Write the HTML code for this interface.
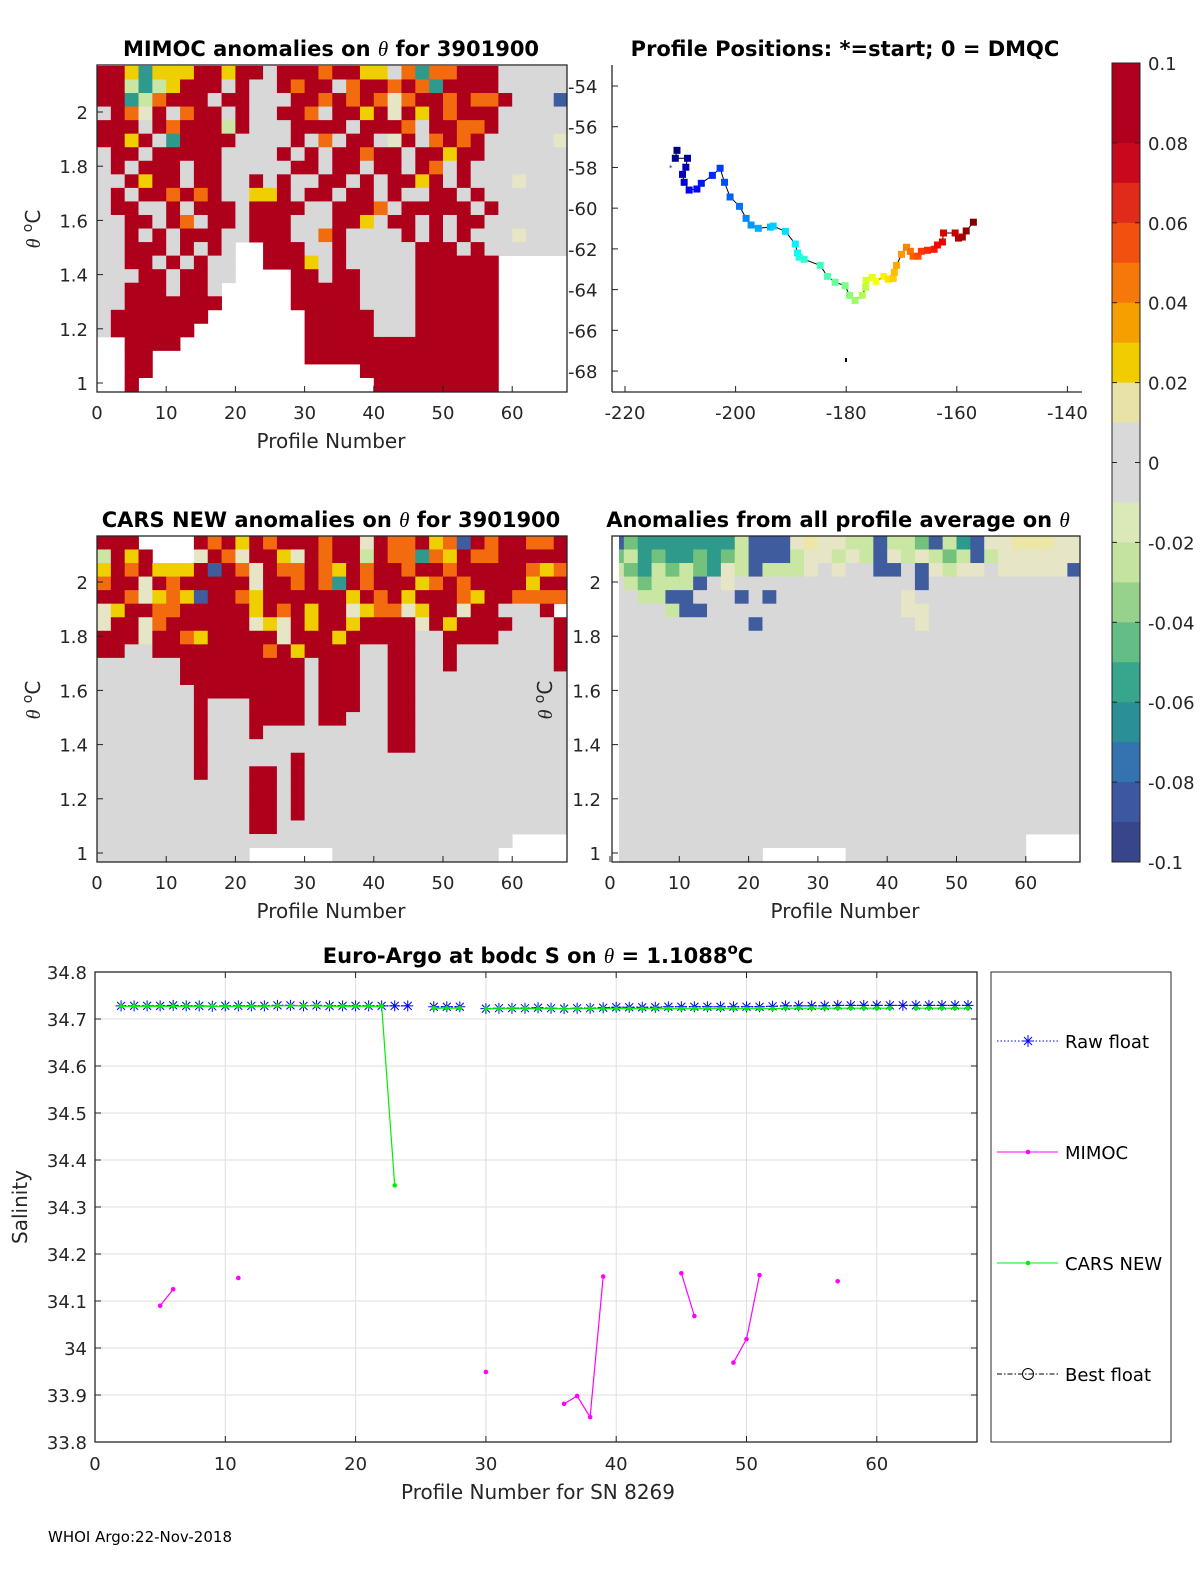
<!DOCTYPE html>
<html><head><meta charset="utf-8"><style>
html,body{margin:0;padding:0;background:#fff;}
svg{display:block;font-family:"DejaVu Sans","Liberation Sans",sans-serif;}
</style></head><body>
<svg id="fig" width="1200" height="1575" viewBox="0 0 1200 1575" xmlns="http://www.w3.org/2000/svg">
<rect width="1200" height="1575" fill="#fff"/>
<g id="p1"></g>
<g id="p2"></g>
<g id="p3"></g>
<g id="p4"></g>
<g id="cb"></g>
<g id="p5"></g>
<text x="48" y="1542" font-size="15">WHOI Argo:22-Nov-2018</text>
</svg>
<script>
// ---------- data ----------
const mimocRows = [
"RRYTYYYRRYRRGRRRORRYYGOTOORRRGGGGG",
"RRLTLYRRRGRGGRORRGORROROTRRRRGGGGG",
"RRTLORRRGRRGGGRROROROCORROROORGGGB",
"GROCRGORRGRGGRROGRRYRCRYRORRRGGGGG",
"RRRGRORRRLRGGGRRRRGRRROGRROORGGGGG",
"RRYRGTRRRRGGGGRGOGRRGCRGORORGGGGGC",
"GRRGRRRRRGGGGRGRGRRORRGRRYRRGGGGGG",
"GRGRRRGRRGGGGGRRGRRGRRGROGRGGGGGGG",
"GGRYRRGRRGGRGRGGRRGRGRRYRGRGGGCGGG",
"GRGRRORORGGYYRGRRGRRGRGGRRGRGGGGGG",
"GRRGGRGRRRGRRRRGGRRROGRRRRRGRGGGGG",
"GGRRGROGRRGRRRGGGRRYGRRGRGRRGGGGGG",
"GGRGRGRRRGGRRRGGORGGGGRGRGRGGGCGGG",
"GGRRRGRGRGWWRRRGGRGGGGGRRRGRGGGGGG",
"GGRRGRGRGGWWRRRYGRGGGGGRRRRRRWWWWW",
"GGGRRGRRGGWWWWRRGRRGGGGRRRRRRWWWWW",
"GGRRRGRRGWWWWWRRRRRGGGGRRRRRRWWWWW",
"GGRRRRRRRWWWWWRRRRRGGGGRRRRRRWWWWW",
"GRRRRRRRWWWWWWWRRRRRGGGRRRRRRWWWWW",
"GRRRRRRWWWWWWWWRRRRRGGGRRRRRRWWWWW",
"WWRRRRWWWWWWWWWRRRRRRRRRRRRRRWWWWW",
"WWRRWWWWWWWWWWWRRRRRRRRRRRRRRWWWWW",
"WWRRWWWWWWWWWWWWWWWRRRRRRRRRRWWWWW",
"WWRWWWWWWWWWWWWWWWWWRRRRRRRRRWWWWW"];
const carsRows = [
"RRRWWWWRORYRORRRORRCROORYOBRORROOR",
"LRYRWWWCROCRRYCRORRLROOTOYROORRRRR",
"YRORYYYRBROCROOROYRORRORRORRRRROYO",
"ORRCRORRRRRCRROROTRORRRYORORRRRYRR",
"RROCYOYBRROYRRRRRRYRORYRRROYRROOOO",
"CYRROORRRRRYRORYRRCYOOCYRRCRRGGGR",
"CRRCORRRRRRCYCRYRRYRRRRCRYRRRRGGGR",
"RRRCRROYRRRRRCRRRYRRRRRGGRRRRGGGGR",
"RRGGRRRRRRRRORYRRRRGGRRGGRGGGGGGGR",
"GGGGGGRRRRRRRRRGRRRGGRRGGRGGGGGGGR",
"GGGGGGRRRRRRRRRGRRRGGRRGGGGGGGGGGG",
"GGGGGGGRRRRRRRRGRRRGGRRGGGGGGGGGGG",
"GGGGGGGRGGGRRRRGRRRGGRRGGGGGGGGGGG",
"GGGGGGGRGGGRRRRGRRGGGRRGGGGGGGGGGG",
"GGGGGGGRGGGRGGGGGGGGGRRGGGGGGGGGGG",
"GGGGGGGRGGGGGGGGGGGGGRRGGGGGGGGGGG",
"GGGGGGGRGGGGGGRGGGGGGGGGGGGGGGGGGG",
"GGGGGGGRGGGRRGRGGGGGGGGGGGGGGGGGGG",
"GGGGGGGGGGGRRGRGGGGGGGGGGGGGGGGGGG",
"GGGGGGGGGGGRRGRGGGGGGGGGGGGGGGGGGG",
"GGGGGGGGGGGRRGRGGGGGGGGGGGGGGGGGGG",
"GGGGGGGGGGGRRGGGGGGGGGGGGGGGGGGGGG",
"GGGGGGGGGGGGGGGGGGGGGGGGGGGGGGWWWW",
"GGGGGGGGGGGWWWWWWGGGGGGGGGGGGWWWWW"];
const avgRows = [
"BKTTTTTTTLBBBCPCCLLBLLKBLTBCCPPPCC",
"KLTKTTKTKLBBBLCCLCLBCLCLKLBLCCCCCC",
"LKTLKLKTCLBLLLCGCGGBBGBCLCCGCCCCCB",
"GLKLLLBGCGGGGGGGGGGGGGBGGGGGGGGGGG",
"GGLLBBGGGBGBGGGGGGGGGCGGGGGGGGGGGG",
"GGGGLBBGGGGGGGGGGGGGGCCGGGGGGGGGGG",
"GGGGGGGGGGBGGGGGGGGGGGCGGGGGGGGGGG"];
const avgBlankBottom = ["GGGGGGGGGGGGGGGGGGGGGGGGGGGGGGWWWW","GGGGGGGGGGGWWWWWWGGGGGGGGGGGGGWWWW"];

const trackLon = [-210.6,-210.9,-208.7,-209.0,-209.6,-209.3,-208.4,-207.0,-206.2,-204.2,-202.8,-202.0,-201.0,-199.3,-198.1,-197.2,-195.9,-193.7,-193.2,-191.0,-189.2,-188.8,-188.5,-187.6,-184.7,-183.4,-182.0,-180.2,-179.4,-178.4,-177.1,-176.5,-176.4,-175.3,-174.6,-173.2,-172.4,-171.5,-171.3,-170.9,-170.0,-169.1,-168.4,-167.9,-167.0,-166.4,-165.3,-164.1,-163.5,-162.6,-162.4,-160.3,-159.7,-159.0,-158.3,-157.0];
const trackLat = [-57.16,-57.55,-57.55,-57.99,-58.34,-58.73,-59.11,-59.06,-58.78,-58.39,-58.04,-58.73,-59.45,-59.91,-60.50,-60.83,-60.99,-60.93,-60.88,-61.14,-61.76,-62.20,-62.41,-62.51,-62.81,-63.35,-63.64,-63.81,-64.28,-64.53,-64.28,-63.89,-63.54,-63.40,-63.59,-63.35,-63.49,-63.45,-63.15,-62.81,-62.27,-61.92,-62.12,-62.36,-62.36,-62.12,-62.07,-62.02,-61.81,-61.66,-61.22,-61.22,-61.47,-61.42,-61.12,-60.69];

const profiles = [];
for (let p = 1; p <= 67; p++) profiles.push(p);
const rawSal = [null,34.728,34.728,34.728,34.728,34.729,34.728,34.728,34.727,34.728,34.728,34.728,34.728,34.729,34.729,34.728,34.729,34.728,34.728,34.728,34.728,34.728,34.728,34.728,null,34.726,34.726,34.726,null,34.722,34.723,34.723,34.723,34.724,34.723,34.722,34.723,34.723,34.724,34.725,34.725,34.725,34.725,34.726,34.726,34.726,34.726,34.726,34.726,34.726,34.726,34.727,34.728,34.728,34.728,34.728,34.729,34.729,34.729,34.729,34.729,34.729,34.729,34.729,34.729,34.729,34.729];
const carsSal = [null,34.727,34.727,34.727,34.727,34.727,34.727,34.727,34.727,34.727,34.727,34.727,34.727,34.728,34.728,34.728,34.728,34.727,34.727,34.727,34.727,34.727,34.346,null,null,34.723,34.723,34.723,null,34.722,34.722,34.722,34.722,34.722,34.722,34.722,34.722,34.722,34.722,34.722,34.722,34.722,34.722,34.722,34.722,34.722,34.722,34.722,34.722,34.722,34.722,34.722,34.723,34.723,34.723,34.723,34.723,34.723,34.723,34.723,34.723,null,34.723,34.723,34.723,34.723,34.723];
const mimocSal = [null,null,null,null,34.090,34.125,null,null,null,null,34.149,null,null,null,null,null,null,null,null,null,null,null,null,null,null,null,null,null,null,33.949,null,null,null,null,null,33.881,33.898,33.853,34.152,null,null,null,null,null,34.159,34.068,null,null,33.969,34.019,34.155,null,null,null,null,null,34.142,null,null,null,null,null,null,null,null,null,null];

const cbColors = ["#b00020","#b00020","#c8081c","#e02a1a","#f05010","#f7780a","#f5a000","#f0cc00","#e8e2a8","#d9d9d9","#d9d9d9","#dbe8b8","#c4e3a0","#96d28c","#62be84","#38a68c","#2c8f98","#3473b0","#3d58a0","#37468a"];
const cbTicks = ["0.1","0.08","0.06","0.04","0.02","0","-0.02","-0.04","-0.06","-0.08","-0.1"];

const cellColor = {R:"#ae001b",O:"#f26b0f",Y:"#f0cf00",C:"#e6e5c6",G:"#d8d8d8",T:"#2e9a8c",B:"#3f5c9f",L:"#c9e6a2",K:"#72c27e",P:"#ece7a6",W:"#ffffff"};

// ---------- helpers ----------
const NS = "http://www.w3.org/2000/svg";
function mk(parent, tag, attrs, txt){
  const e = document.createElementNS(NS, tag);
  for (const k in attrs) e.setAttribute(k, attrs[k]);
  if (txt !== undefined) e.textContent = txt;
  parent.appendChild(e);
  return e;
}
const TICK = 18, LAB = 20, TIT = 21;

function heatPanel(gid, rows, x0, y0, pxPerProfile, box, nameBase){
  const g = document.getElementById(gid);
  const xOf = p => x0 + p * pxPerProfile;
  const yOf = t => y0 - (t - 1) * 271;
  rows.forEach((row, i) => {
    const tTop = 2.17 - 0.05 * i;
    for (let k = 0; k < row.length; k++) {
      const ch = row[k];
      if (ch === 'W') continue;
      const x1 = Math.max(xOf(2 * k), box[0]), x2 = Math.min(xOf(2 * k + 2), box[2]);
      const y1 = Math.max(yOf(tTop), box[1]), y2 = Math.min(yOf(tTop - 0.05), box[3]);
      if (x2 <= x1 || y2 <= y1) continue;
      const r = mk(g, 'rect', {x: x1, y: y1, width: x2 - x1 + 0.4, height: y2 - y1 + 0.4, fill: cellColor[ch]});
      
      
    }
  });
  return {xOf, yOf};
}

function thetaAxis(g, ax, yOf, labelX, anchor){
  [1, 1.2, 1.4, 1.6, 1.8, 2].forEach(t => {
    const y = yOf(t);
    mk(g, 'line', {x1: ax, x2: ax + 6, y1: y, y2: y, stroke: '#222'});
    const tx = mk(g, 'text', {x: labelX, y: y + 7, 'font-size': TICK, 'text-anchor': anchor, fill: '#262626'}, String(t));
    
    
  });
}
function profileAxis(g, xOf, yb, labelY){
  [0,10,20,30,40,50,60].forEach(p => {
    const x = xOf(p);
    mk(g, 'line', {x1: x, x2: x, y1: yb, y2: yb - 6, stroke: '#222'});
    const tx = mk(g, 'text', {x: x, y: labelY, 'font-size': TICK, 'text-anchor': 'middle', fill: '#262626'}, String(p));
    
    
  });
}
function title(g, x, y, txtHtml, name){
  const t = mk(g, 'text', {x: x, y: y, 'font-size': TIT, 'font-weight': 'bold', 'text-anchor': 'middle', fill: '#000'});
  t.innerHTML = txtHtml;
  
  
}
function label(g, x, y, txt, rot, name){
  const t = mk(g, 'text', {x: x, y: y, 'font-size': LAB, 'text-anchor': 'middle', fill: '#262626', transform: rot ? `rotate(-90 ${x} ${y})` : ''});
  t.innerHTML = txt;
  
  
}
const thetaLab = '<tspan font-style="italic" font-family="Liberation Serif, serif">θ</tspan> <tspan dy="-8" font-size="14">o</tspan><tspan dy="8">C</tspan>';
const thetaT = '<tspan font-style="italic" font-weight="normal" font-family="Liberation Serif, serif">θ</tspan>';

// ---------- panel 1 ----------
(function(){
  const g = document.getElementById('p1');
  const box = [97, 65, 567, 392];
  const {xOf, yOf} = heatPanel('p1', mimocRows, 97, 383, 6.92, box, 'mimoc');
  mk(g, 'rect', {x: 97, y: 65, width: 470, height: 327, fill: 'none', stroke: '#262626', 'stroke-width': 1.3});
  thetaAxis(g, 97, yOf, 88, 'end');
  profileAxis(g, xOf, 392, 419);
  title(g, 331, 56, 'MIMOC anomalies on ' + thetaT + '  for 3901900', 'mimoc-title');
  label(g, 331, 448, 'Profile Number', false, 'x-axis-title');
  label(g, 40, 229, thetaLab, true, 'y-axis-title');
})();

// ---------- panel 2 ----------
(function(){
  const g = document.getElementById('p2');
  const lonX = lon => 625 + (lon + 220) * 5.53;
  const latY = lat => 86 + (-54 - lat) * 20.36;
  mk(g, 'line', {x1: 612, x2: 612, y1: 65, y2: 392, stroke: '#262626', 'stroke-width': 1.3});
  mk(g, 'line', {x1: 612, x2: 1082, y1: 392, y2: 392, stroke: '#262626', 'stroke-width': 1.3});
  [-54,-56,-58,-60,-62,-64,-66,-68].forEach(l => {
    const y = latY(l);
    mk(g, 'line', {x1: 612, x2: 618, y1: y, y2: y, stroke: '#222'});
    const t = mk(g, 'text', {x: 568, y: y + 7, 'font-size': TICK, fill: '#262626'}, String(l));
    
    
  });
  [-220,-200,-180,-160,-140].forEach(l => {
    const x = lonX(l);
    mk(g, 'line', {x1: x, x2: x, y1: 392, y2: 386, stroke: '#222'});
    const t = mk(g, 'text', {x: x, y: 419, 'font-size': TICK, 'text-anchor': 'middle', fill: '#262626'}, String(l));
    
    
  });
  let d = '';
  trackLon.forEach((lo, i) => { d += (i ? 'L' : 'M') + lonX(lo).toFixed(1) + ' ' + latY(trackLat[i]).toFixed(1); });
  mk(g, 'path', {d: d, fill: 'none', stroke: '#000', 'stroke-width': 1});
  function jet(v){
    const r = Math.min(Math.max(Math.min(4*v-1.5, -4*v+4.5),0),1);
    const gg = Math.min(Math.max(Math.min(4*v-0.5, -4*v+3.5),0),1);
    const b = Math.min(Math.max(Math.min(4*v+0.5, -4*v+2.5),0),1);
    return `rgb(${Math.round(r*255)},${Math.round(gg*255)},${Math.round(b*255)})`;
  }
  trackLon.forEach((lo, i) => {
    const m = mk(g, 'rect', {x: lonX(lo) - 3.5, y: latY(trackLat[i]) - 3.5, width: 7, height: 7, fill: jet(i / (trackLon.length - 1))});
    
    
  });
  mk(g, 'text', {x: 669, y: 170, 'font-size': 7, fill: '#0000aa'}, '*');
  mk(g, 'rect', {x: 845, y: 358, width: 2, height: 4, fill: '#000'});
  title(g, 845, 56, 'Profile Positions: *=start; 0 = DMQC', 'positions-title');
})();

// ---------- panel 3 ----------
(function(){
  const g = document.getElementById('p3');
  const box = [97, 536, 567, 862];
  const {xOf, yOf} = heatPanel('p3', carsRows, 97, 853, 6.92, box, 'cars');
  mk(g, 'rect', {x: 97, y: 536, width: 470, height: 326, fill: 'none', stroke: '#262626', 'stroke-width': 1.3});
  thetaAxis(g, 97, yOf, 88, 'end');
  profileAxis(g, xOf, 862, 889);
  title(g, 331, 527, 'CARS NEW anomalies on ' + thetaT + ' for 3901900', 'cars-title');
  label(g, 331, 918, 'Profile Number', false, 'x-axis-title');
  label(g, 40, 700, thetaLab, true, 'y-axis-title');
})();

// ---------- panel 4 ----------
(function(){
  const g = document.getElementById('p4');
  const box = [619, 536, 1079, 862];
  const rows = avgRows.slice();
  while (rows.length < 22) rows.push("G".repeat(34));
  rows.push(avgBlankBottom[0]); rows.push(avgBlankBottom[1]);
  const {xOf, yOf} = heatPanel('p4', rows, 610, 853, 6.93, box, 'average');
  mk(g, 'rect', {x: 612, y: 536, width: 468, height: 326, fill: 'none', stroke: '#262626', 'stroke-width': 1.3});
  thetaAxis(g, 612, yOf, 601, 'end');
  profileAxis(g, xOf, 862, 889);
  title(g, 838, 527, 'Anomalies from all profile average on ' + thetaT, 'average-title');
  label(g, 845, 918, 'Profile Number', false, 'x-axis-title');
  label(g, 552, 700, thetaLab, true, 'y-axis-title');
})();

// ---------- colorbar ----------
(function(){
  const g = document.getElementById('cb');
  const top = 63, h = 799, x = 1112, w = 28;
  const bh = h / cbColors.length;
  cbColors.forEach((c, i) => {
    const r = mk(g, 'rect', {x: x, y: top + i * bh, width: w, height: bh + 0.5, fill: c});
    
    
  });
  mk(g, 'rect', {x: x, y: top, width: w, height: h, fill: 'none', stroke: '#262626'});
  cbTicks.forEach((t, i) => {
    const y = top + i * h / (cbTicks.length - 1);
    mk(g, 'line', {x1: x + w - 5, x2: x + w, y1: y, y2: y, stroke: '#222'});
    mk(g, 'line', {x1: x, x2: x + 5, y1: y, y2: y, stroke: '#222'});
    const tx = mk(g, 'text', {x: 1148, y: y + 7, 'font-size': TICK, fill: '#262626'}, t);
    
    
  });
})();

// ---------- salinity panel ----------
(function(){
  const g = document.getElementById('p5');
  const bx = p => 95 + p * 13.03;
  const by = s => 972 + (34.8 - s) * 470;
  mk(g, 'rect', {x: 95, y: 972, width: 882, height: 470, fill: '#fff'});
  const sTicks = [34.8,34.7,34.6,34.5,34.4,34.3,34.2,34.1,34,33.9,33.8];
  sTicks.forEach(s => {
    const y = by(s);
    mk(g, 'line', {x1: 95, x2: 977, y1: y, y2: y, stroke: '#dfdfdf'});
    mk(g, 'line', {x1: 95, x2: 101, y1: y, y2: y, stroke: '#222'});
    mk(g, 'line', {x1: 971, x2: 977, y1: y, y2: y, stroke: '#222'});
    const t = mk(g, 'text', {x: 87, y: y + 7, 'font-size': TICK, 'text-anchor': 'end', fill: '#262626'}, String(s));
    
    
  });
  [0,10,20,30,40,50,60].forEach(p => {
    const x = bx(p);
    mk(g, 'line', {x1: x, x2: x, y1: 972, y2: 1442, stroke: '#dfdfdf'});
    mk(g, 'line', {x1: x, x2: x, y1: 1442, y2: 1436, stroke: '#222'});
    mk(g, 'line', {x1: x, x2: x, y1: 972, y2: 978, stroke: '#222'});
    const t = mk(g, 'text', {x: x, y: 1470, 'font-size': TICK, 'text-anchor': 'middle', fill: '#262626'}, String(p));
    
    
  });
  mk(g, 'rect', {x: 95, y: 972, width: 882, height: 470, fill: 'none', stroke: '#262626', 'stroke-width': 1.3});

  function series(vals, color, dash, width){
    let d = '', pen = false;
    vals.forEach((v, i) => {
      if (v === null) { pen = false; return; }
      d += (pen ? 'L' : 'M') + bx(profiles[i]).toFixed(1) + ' ' + by(v).toFixed(1);
      pen = true;
    });
    return mk(g, 'path', {d: d, fill: 'none', stroke: color, 'stroke-width': width, 'stroke-dasharray': dash || ''});
  }
  const rawLine = series(rawSal, '#0000ff', '1.5 2', 1.3);
  
  
  rawSal.forEach((v, i) => {
    if (v === null) return;
    const x = bx(profiles[i]), y = by(v), s = 5.5;
    const st = mk(g, 'path', {d: `M${x-s} ${y}H${x+s}M${x} ${y-s}V${y+s}M${x-4} ${y-4}L${x+4} ${y+4}M${x-4} ${y+4}L${x+4} ${y-4}`, stroke: '#0000ff', 'stroke-width': 1});
    
    
  });
  const carsLine = series(carsSal, '#00ee00', '', 1.2);
  
  
  carsSal.forEach((v, i) => {
    if (v === null) return;
    const c = mk(g, 'circle', {cx: bx(profiles[i]), cy: by(v), r: 2.3, fill: '#00ee00'});
    
    
  });
  const mimLine = series(mimocSal, '#ff00ff', '', 1.2);
  
  
  mimocSal.forEach((v, i) => {
    if (v === null) return;
    const c = mk(g, 'circle', {cx: bx(profiles[i]), cy: by(v), r: 2.3, fill: '#ff00ff'});
    
    
  });

  title(g, 538, 963, 'Euro-Argo at bodc S on ' + thetaT + ' = 1.1088<tspan dy="-9" font-size="15">o</tspan><tspan dy="9">C</tspan>', 'salinity-title');
  label(g, 538, 1499, 'Profile Number for SN 8269', false, 'x-axis-title');
  label(g, 27, 1207, 'Salinity', true, 'y-axis-title');

  const lg = mk(g, 'g', {});
  
  
  mk(lg, 'rect', {x: 991, y: 972, width: 180, height: 470, fill: '#fff', stroke: '#262626'});
  const entries = [[1041,'Raw float','#0000ff'],[1152,'MIMOC','#ff00ff'],[1263,'CARS NEW','#00ee00'],[1374,'Best float','#000']];
  entries.forEach((e, i) => {
    const y = e[0];
    const eg = mk(lg, 'g', {});
    
    
    const dash = i === 0 ? '1.5 2' : (i === 3 ? '5 2 1.5 2' : '');
    mk(eg, 'line', {x1: 997, x2: 1058, y1: y, y2: y, stroke: e[2], 'stroke-width': 1, 'stroke-dasharray': dash});
    if (i === 0) mk(eg, 'path', {d: `M1022 ${y}H1034M1028 ${y-6}V${y+6}M1024 ${y-4}L1032 ${y+4}M1024 ${y+4}L1032 ${y-4}`, stroke: '#0000ff'});
    if (i === 1 || i === 2) mk(eg, 'circle', {cx: 1028, cy: y, r: 2.3, fill: e[2]});
    if (i === 3) mk(eg, 'circle', {cx: 1028, cy: y, r: 5.5, fill: 'none', stroke: '#000'});
    mk(eg, 'text', {x: 1065, y: y + 7, 'font-size': TICK, fill: '#000'}, e[1]);
  });
})();
</script>
</body></html>
